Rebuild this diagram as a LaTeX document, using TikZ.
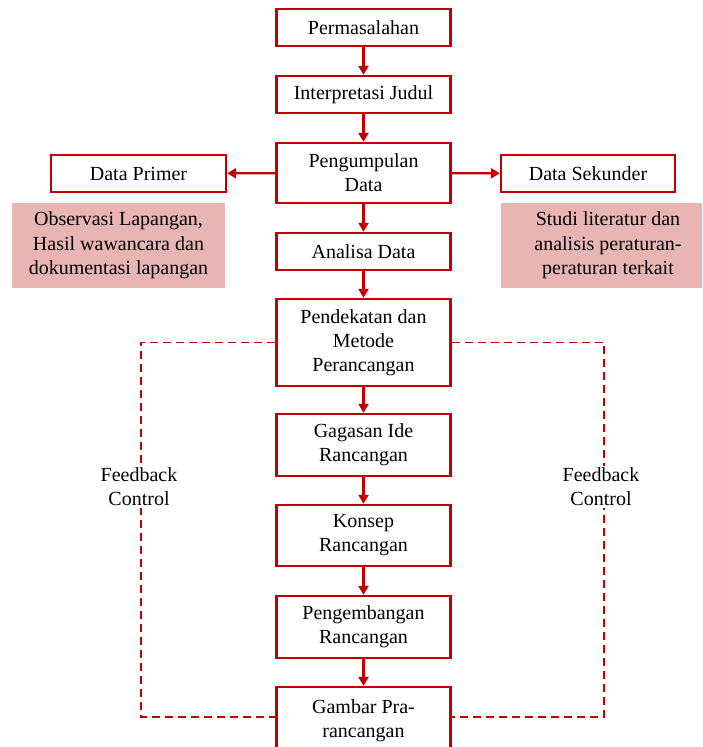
\documentclass[tikz,border=0pt]{standalone}
\usepackage{fontspec}
\setmainfont{Liberation Serif}
\usetikzlibrary{arrows.meta}
\definecolor{dred}{RGB}{192,0,0}
\definecolor{pinkbg}{RGB}{233,180,180}
\begin{document}
\begin{tikzpicture}[x=1pt,y=-1pt,
  box/.style={draw=dred,line width=2.4pt,fill=white,align=center,inner sep=0pt,
    font=\fontsize{20}{24}\selectfont,text=black},
  pinkbox/.style={fill=pinkbg,align=center,inner sep=0pt,font=\fontsize{20}{24.5}\selectfont},
  arr/.style={draw=dred,line width=2.4pt,-{Triangle[length=9pt,width=10pt]}},
  fb/.style={draw=dred,line width=1.5pt,dash pattern=on 8pt off 5pt},
  fblabel/.style={fill=white,align=center,inner sep=2pt,font=\fontsize{20}{24}\selectfont}]
\useasboundingbox (0,0) rectangle (702,747);
\node[box,minimum width=174pt,minimum height=37pt] (perm) at (363.5,27.5) {Permasalahan};
\node[box,minimum width=174pt,minimum height=37pt] (interp) at (363.5,94.5) {Interpretasi Judul};
\node[box,minimum width=174pt,minimum height=60pt] (pengum) at (363.5,173) {Pengumpulan\\Data};
\node[box,minimum width=175pt,minimum height=37pt] (datap) at (138.5,173.5) {Data Primer};
\node[box,minimum width=174pt,minimum height=37pt] (datas) at (588,173.5) {Data Sekunder};
\node[pinkbox,minimum width=213pt,minimum height=85pt] (pinkl) at (118.5,245.5) {Observasi Lapangan,\\Hasil wawancara dan\\dokumentasi lapangan};
\fill[pinkbg] (501,203) rectangle (702,288);
\node[pinkbox,fill=none] (pinkr) at (608,245.5) {Studi literatur dan\\analisis peraturan-\\peraturan terkait};
\node[box,minimum width=174pt,minimum height=37pt] (analisa) at (363.5,251.5) {Analisa Data};
\node[box,minimum width=174pt,minimum height=87pt] (pendek) at (363.5,342.5) {Pendekatan dan\\Metode\\Perancangan};
\node[box,minimum width=174pt,minimum height=62pt] (gagasan) at (363.5,445) {Gagasan Ide\\Rancangan};
\node[box,minimum width=174pt,minimum height=61pt] (konsep) at (363.5,535.5) {Konsep\\Rancangan};
\node[box,minimum width=174pt,minimum height=62pt] (pengemb) at (363.5,627) {Pengembangan\\Rancangan};
\node[box,minimum width=174pt,minimum height=64pt,text depth=0pt] (gambar) at (363.5,719) {Gambar Pra-\\rancangan};
\coordinate (lt) at (141,342.5);
\coordinate (lb) at (141,717);
\coordinate (rt) at (604,342.5);
\coordinate (rb) at (604,717);
\draw[fb] (pendek.west) -- (lt) -- (lb) -- (gambar.west |- lb);
\draw[fb] (pendek.east) -- (rt) -- (rb) -- (gambar.east |- rb);
\node[fblabel] (fbl) at (139,487) {Feedback\\Control};
\node[fblabel] (fbr) at (601,487) {Feedback\\Control};
\draw[arr] (perm) -- (interp);
\draw[arr] (interp) -- (pengum);
\draw[arr] (pengum) -- (datap);
\draw[arr] (pengum) -- (datas);
\draw[arr] (pengum) -- (analisa);
\draw[arr] (analisa) -- (pendek);
\draw[arr] (pendek) -- (gagasan);
\draw[arr] (gagasan) -- (konsep);
\draw[arr] (konsep) -- (pengemb);
\draw[arr] (pengemb) -- (gambar);
\end{tikzpicture}
\end{document}
